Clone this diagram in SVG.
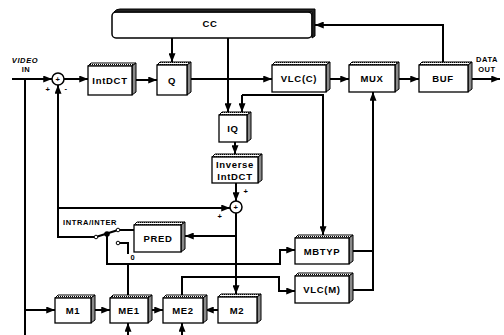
<svg xmlns="http://www.w3.org/2000/svg" width="504" height="335" viewBox="0 0 504 335">
<style>
.front{fill:#fff;stroke:#000;stroke-width:1.3}
.top{fill:url(#dots);stroke:#000;stroke-width:1}
.side{fill:#8a8a8a;stroke:#000;stroke-width:1}
.lbl{font-family:"Liberation Sans",Arial,sans-serif;font-weight:bold;font-size:9.5px;letter-spacing:0.7px;text-anchor:middle;fill:#000}
.sm{font-family:"Liberation Sans",Arial,sans-serif;font-weight:bold;font-size:7.5px;letter-spacing:0.6px;fill:#000}
.w{fill:none;stroke:#000;stroke-width:2}
.a{marker-end:url(#ah)}
</style>
<defs>
<pattern id="dots" width="2" height="2" patternUnits="userSpaceOnUse"><rect width="2" height="2" fill="#fff"/><rect width="1" height="1" fill="#000"/></pattern>
<marker id="ah" viewBox="0 0 10 8" refX="10" refY="4" markerWidth="9" markerHeight="7" markerUnits="userSpaceOnUse" orient="auto"><path d="M0,0 L10,4 L0,8 z" fill="#000"/></marker>
</defs>
<rect width="504" height="335" fill="#fff"/>

<g id="connectors">
<path class="w a" d="M12,79 H52"/>
<path class="w" d="M25,79 V335"/>
<path class="w a" d="M25,310 H55"/>
<path class="w a" d="M64,79 H88"/>
<path class="w a" d="M132,80 H157"/>
<path class="w a" d="M172,38 V62"/>
<path class="w a" d="M187,79 H272"/>
<path class="w a" d="M228,38 V112"/>
<path class="w a" d="M242,95 H323 V235"/>
<path class="w a" d="M242,95 V112"/>
<path class="w a" d="M235,142 V154"/>
<path class="w a" d="M236,183 V201"/>
<path class="w a" d="M236,213 V294"/>
<path class="w a" d="M236,236 H185"/>
<path class="w a" d="M326,79 H349"/>
<path class="w a" d="M395,79 H419"/>
<path class="w a" d="M468,79 H500"/>
<path class="w a" d="M443,62 V25 H315"/>
<path class="w a" d="M94,237 H58 V85"/>
<path class="w a" d="M58,208 H230"/>
<path class="w" d="M97.5,236.5 L116.5,230.5"/>
<path class="w" d="M120,230 H134"/>
<circle cx="96" cy="237" r="1.8" fill="#fff" stroke="#000" stroke-width="1"/>
<circle cx="118" cy="230" r="1.8" fill="#fff" stroke="#000" stroke-width="1"/>
<circle cx="107" cy="234" r="2.8" fill="#000"/>
<circle cx="118" cy="243" r="1.8" fill="#fff" stroke="#000" stroke-width="1"/>
<path class="w" d="M120,243 H128 V254"/>
<path class="w" d="M128,295 V264 H107 V235"/>
<path class="w a" d="M128,264 H280 V250 H295"/>
<path class="w a" d="M182,295 V277 H279 V291 H295"/>
<path class="w" d="M349,251 H373"/>
<path class="w a" d="M349,290 H373 V92"/>
<path class="w a" d="M91,310 H110"/>
<path class="w a" d="M148,310 H163"/>
<path class="w a" d="M218,310 H205"/>
<path class="w a" d="M128,335 V323"/>
<path class="w a" d="M182,335 V323"/>
<circle cx="58" cy="79" r="6" fill="#fff" stroke="#000" stroke-width="1.5"/>
<text x="58" y="81.5" class="sm" text-anchor="middle" font-size="6">+</text>
<circle cx="236" cy="207" r="6" fill="#fff" stroke="#000" stroke-width="1.5"/>
<text x="236" y="209.5" class="sm" text-anchor="middle" font-size="6">+</text>
</g>

<g id="CC">
<rect x="112" y="12" width="200" height="26" rx="4" fill="#fff" stroke="#000" stroke-width="1.5"/>
<path d="M114,12 Q116,9 120,9 H315 V36 L312,38 V12 Z" fill="#222" stroke="#000" stroke-width="1"/>
<text x="210" y="27" class="lbl">CC</text>
</g>

<g id="IntDCT">
<polygon class="top" points="88,66 91,63 136,63 132,66"/>
<polygon class="side" points="132,66 136,63 136,92 132,95"/>
<rect class="front" x="88" y="66" width="44" height="29"/>
<text x="110" y="83.5" class="lbl">IntDCT</text>
</g>
<g id="Q">
<polygon class="top" points="157,65 160,62 191,62 187,65"/>
<polygon class="side" points="187,65 191,62 191,92 187,95"/>
<rect class="front" x="157" y="65" width="30" height="30"/>
<text x="172" y="83.5" class="lbl">Q</text>
</g>
<g id="VLCC">
<polygon class="top" points="272,65 275,62 330,62 326,65"/>
<polygon class="side" points="326,65 330,62 330,89 326,92"/>
<rect class="front" x="272" y="65" width="54" height="27"/>
<text x="299" y="82" class="lbl">VLC(C)</text>
</g>
<g id="MUX">
<polygon class="top" points="349,65 352,62 399,62 395,65"/>
<polygon class="side" points="395,65 399,62 399,89 395,92"/>
<rect class="front" x="349" y="65" width="46" height="27"/>
<text x="372" y="82" class="lbl">MUX</text>
</g>
<g id="BUF">
<polygon class="top" points="419,65 422,62 472,62 468,65"/>
<polygon class="side" points="468,65 472,62 472,89 468,92"/>
<rect class="front" x="419" y="65" width="49" height="27"/>
<text x="443" y="82" class="lbl">BUF</text>
</g>
<g id="IQ">
<polygon class="top" points="219,115 222,112 251,112 247,115"/>
<polygon class="side" points="247,115 251,112 251,139 247,142"/>
<rect class="front" x="219" y="115" width="28" height="27"/>
<text x="233" y="132" class="lbl">IQ</text>
</g>
<g id="InverseIntDCT">
<polygon class="top" points="212,157 215,154 262,154 258,157"/>
<polygon class="side" points="258,157 262,154 262,180 258,183"/>
<rect class="front" x="212" y="157" width="46" height="26"/>
<text x="235" y="168" class="lbl">Inverse</text>
<text x="235" y="179.5" class="lbl">IntDCT</text>
</g>
<g id="PRED">
<polygon class="top" points="134,225 137,222 185,222 181,225"/>
<polygon class="side" points="181,225 185,222 185,249 181,252"/>
<rect class="front" x="134" y="225" width="47" height="27"/>
<text x="158" y="242" class="lbl">PRED</text>
</g>
<g id="MBTYP">
<polygon class="top" points="295,238 298,235 353,235 349,238"/>
<polygon class="side" points="349,238 353,235 353,261 349,264"/>
<rect class="front" x="295" y="238" width="54" height="26"/>
<text x="322" y="254.5" class="lbl">MBTYP</text>
</g>
<g id="VLCM">
<polygon class="top" points="295,276 298,273 353,273 349,276"/>
<polygon class="side" points="349,276 353,273 353,300 349,303"/>
<rect class="front" x="295" y="276" width="54" height="27"/>
<text x="322" y="293" class="lbl">VLC(M)</text>
</g>
<g id="M1">
<polygon class="top" points="55,298 58,295 95,295 91,298"/>
<polygon class="side" points="91,298 95,295 95,320 91,323"/>
<rect class="front" x="55" y="298" width="36" height="25"/>
<text x="73" y="314" class="lbl">M1</text>
</g>
<g id="ME1">
<polygon class="top" points="110,298 113,295 152,295 148,298"/>
<polygon class="side" points="148,298 152,295 152,320 148,323"/>
<rect class="front" x="110" y="298" width="38" height="25"/>
<text x="129" y="314" class="lbl">ME1</text>
</g>
<g id="ME2">
<polygon class="top" points="163,298 166,295 207,295 203,298"/>
<polygon class="side" points="203,298 207,295 207,320 203,323"/>
<rect class="front" x="163" y="298" width="40" height="25"/>
<text x="183" y="314" class="lbl">ME2</text>
</g>
<g id="M2">
<polygon class="top" points="218,297 221,294 261,294 257,297"/>
<polygon class="side" points="257,297 261,294 261,320 257,323"/>
<rect class="front" x="218" y="297" width="39" height="26"/>
<text x="237" y="314" class="lbl">M2</text>
</g>

<g id="labels">
<text x="25" y="63" class="sm" text-anchor="middle" font-style="italic">VIDEO</text>
<text x="26" y="72" class="sm" text-anchor="middle">IN</text>
<text x="487" y="62" class="sm" text-anchor="middle">DATA</text>
<text x="487" y="72" class="sm" text-anchor="middle">OUT</text>
<text x="63" y="225" class="sm">INTRA/INTER</text>
<text x="48" y="92" class="sm" text-anchor="middle">+</text>
<text x="66" y="91" class="sm" text-anchor="middle">-</text>
<text x="246" y="194" class="sm" text-anchor="middle">+</text>
<text x="220" y="219" class="sm" text-anchor="middle">+</text>
<text x="133" y="260" class="sm" text-anchor="middle">0</text>
</g>
</svg>
